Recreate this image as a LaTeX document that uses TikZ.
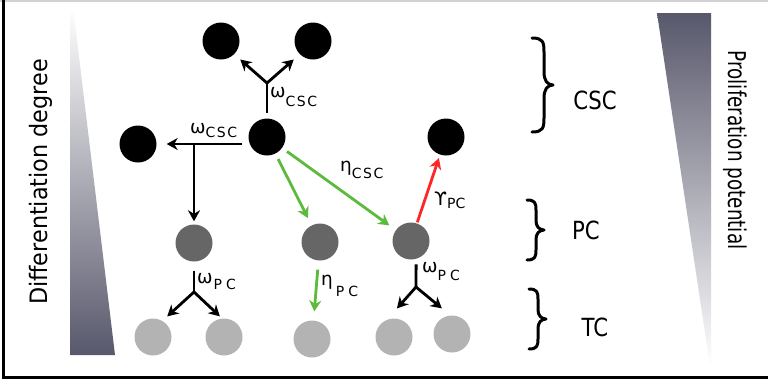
\documentclass[tikz,border=0pt]{standalone}
\usepackage{fontspec}
\usepackage{graphicx}
\setmainfont{DejaVu Sans}
\usetikzlibrary{arrows.meta,calc}
\definecolor{wedge}{RGB}{88,88,108}
\definecolor{pcgrey}{RGB}{102,102,102}
\definecolor{tcgrey}{RGB}{179,179,179}
\definecolor{grn}{RGB}{92,186,60}
\definecolor{rd}{RGB}{255,38,38}
\definecolor{topline}{RGB}{210,210,210}
\newcommand{\symfont}{\fontsize{18.5}{18.5}\selectfont}
\newcommand{\subfont}{\fontsize{14}{14}\selectfont}
\tikzset{
  cell/.style={circle,minimum size=37pt,inner sep=0pt,draw=none},
  csc/.style={cell,fill=black},
  pc/.style={cell,fill=pcgrey},
  tc/.style={cell,fill=tcgrey},
  arr/.style={line width=2.8pt,-{Stealth[length=11pt,width=12pt,inset=3.5pt]}},
  seg/.style={line width=2.8pt},
  lbl/.style={inner sep=0pt,anchor=base west},
  side/.style={inner sep=0pt},
  bracepath/.style={line width=3pt,line cap=round,line join=round}
}
\begin{document}
\begin{tikzpicture}[x=1pt,y=-1pt]
\useasboundingbox (0,0) rectangle (768,384);
\fill[white] (0,0) rectangle (768,384);
% frame
\draw[topline,line width=2pt] (0,1) -- (768,1);
\draw[black,line width=3pt] (3,0) -- (3,377) -- (768,377);
% wedges
\shade[top color=white,bottom color=wedge] (70,7) -- (73,7) -- (115,355) -- (70,355) -- cycle;
\shade[top color=wedge,bottom color=white] (657,13) -- (711,13) -- (711,366) -- (710,366) -- cycle;
% side texts
\node[side,rotate=90] (difftext) at (41,182) {\scalebox{0.93}[1]{\fontsize{24}{24}\selectfont Differentiation degree}};
\node[side,rotate=-90] (proltext) at (735,150) {\scalebox{0.75}[1]{\fontsize{24.5}{24}\selectfont Proliferation potential}};
% cells
\node[csc] (t1) at (221,41) {};
\node[csc] (t2) at (313,41) {};
\node[csc] (c0) at (267,137) {};
\node[csc] (l1) at (138,144) {};
\node[csc] (r1) at (446,137) {};
\node[pc] (p1) at (194,243) {};
\node[pc] (p2) at (320,242) {};
\node[pc] (p3) at (411,241) {};
\node[tc] (d1) at (153,337) {};
\node[tc] (d2) at (224,337) {};
\node[tc] (d3) at (312,339) {};
\node[tc] (d4) at (394,337) {};
\node[tc] (d5) at (452,334) {};
% junctions
\coordinate (j1) at (267,83);
\coordinate (j2) at (194,144);
\coordinate (j3) at (194,292);
\coordinate (j4) at (416,287);
% symmetric division of CSC
\draw[seg,shorten <=5.5pt] (c0) -- (j1);
\draw[arr,shorten >=8pt] (j1) -- (t1.-45);
\draw[arr,shorten >=8pt] (j1) -- (t2.-135);
% asymmetric division of CSC
\draw[arr,shorten <=6pt,shorten >=10pt] (c0.west |- l1) -- (l1);
\draw[arr,shorten >=3pt] (j2) -- (p1);
% differentiation
\draw[arr,grn,shorten <=6pt,shorten >=8pt] (c0) -- (p2);
\draw[arr,grn,shorten <=6pt,shorten >=8pt] (c0) -- (p3);
\draw[arr,grn,shorten <=9pt,shorten >=9pt] (p2) -- (d3);
% dedifferentiation
\draw[arr,rd,shorten <=1pt,shorten >=3.5pt] (p3) -- (r1);
% PC divisions
\draw[seg,shorten <=9pt] (p1) -- (j3);
\draw[arr,shorten >=6.6pt] (j3) -- (d1.60);
\draw[arr,shorten >=3pt] (j3) -- (d2.96);
\draw[seg,shorten <=5.5pt] (p3.-74) -- (j4);
\draw[arr,shorten >=15pt] (j4) -- (d4.112);
\draw[arr,shorten >=11pt] (j4) -- (d5.95);
% rate labels
\node[lbl] (lw1) at (270,97) {\symfont ω\raisebox{-9pt}{\subfont C\kern1.5pt S\kern1.5pt C}};
\node[lbl] (lw2) at (190,133) {\symfont ω\raisebox{-4pt}{\subfont C\kern1.5pt S\kern1.5pt C}};
\node[lbl] (le1) at (340,171) {\symfont η\raisebox{-7pt}{\subfont C\kern1.5pt S\kern1.5pt C}};
\node[lbl] (lu1) at (434,205) {\symfont ϒ\raisebox{-3pt}{\subfont PC}};
\node[lbl] (lw3) at (197,283) {\symfont ω\raisebox{-6pt}{\subfont\kern1pt P\kern4pt C}};
\node[lbl] (le2) at (321,285) {\symfont η\raisebox{-11pt}{\subfont\kern3pt P\kern4pt C}};
\node[lbl] (lw4) at (422,272) {\symfont ω\raisebox{-8pt}{\subfont P\kern4pt C}};
% braces
\draw[bracepath] (532,38) .. controls (543,38) and (544,42) .. (544,52) -- (544,72) .. controls (544,80) and (547,85) .. (553,85) .. controls (547,85) and (544,90) .. (544,98) -- (544,118) .. controls (544,128) and (543,132) .. (532,132);
\draw[bracepath] (527,200) .. controls (535,200) and (536,203) .. (536,210) -- (536,221) .. controls (536,226) and (539,230) .. (544,230) .. controls (539,230) and (536,234) .. (536,239) -- (536,250) .. controls (536,257) and (535,260) .. (527,260);
\draw[bracepath] (529,289) .. controls (537,289) and (538,292) .. (538,299) -- (538,310) .. controls (538,315) and (541,319) .. (546,319) .. controls (541,319) and (538,323) .. (538,328) -- (538,339) .. controls (538,346) and (537,349) .. (529,349);
% group labels
\node[side] (gcsc) at (595,100) {\scalebox{0.85}[1]{\fontsize{25}{25}\selectfont CSC}};
\node[side] (gpc) at (586,230) {\scalebox{0.85}[1]{\fontsize{25}{25}\selectfont PC}};
\node[side] (gtc) at (595,327) {\scalebox{0.85}[1]{\fontsize{25}{25}\selectfont TC}};
\end{tikzpicture}
\end{document}
